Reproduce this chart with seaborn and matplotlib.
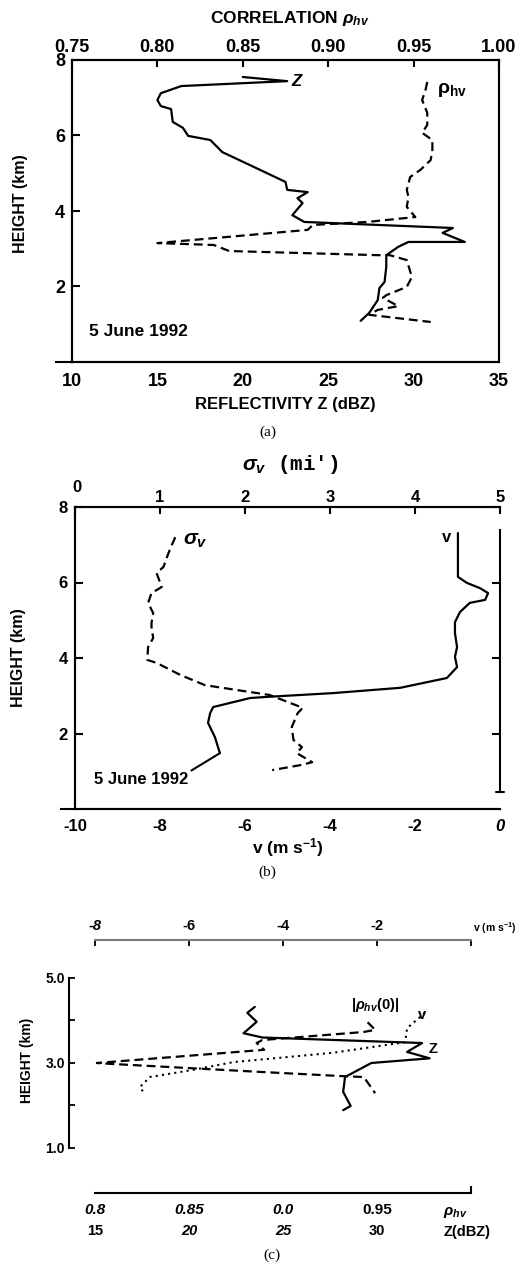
import matplotlib
matplotlib.use("Agg")
import matplotlib.pyplot as plt
import seaborn as sns

# ---------------- Panel (a): reflectivity Z and correlation rho_hv, 5 June 1992
a_z_height = [7.55, 7.44, 7.31, 7.12, 6.94, 6.78, 6.70, 6.36, 6.20, 5.99, 5.88, 5.56, 5.22,
              4.77, 4.56, 4.50, 4.34, 4.21, 3.89, 3.71, 3.55, 3.42, 3.18, 3.18, 3.05, 2.83,
              2.52, 2.12, 1.96, 1.64, 1.30, 1.09]
a_z_dbz = [20.0, 22.6, 16.4, 15.2, 15.0, 15.2, 15.8, 15.9, 16.5, 16.8, 18.1, 18.8, 20.4,
           22.5, 22.6, 23.8, 23.2, 23.5, 22.9, 23.6, 32.3, 31.7, 33.0, 29.7, 29.1, 28.4,
           28.4, 28.3, 28.0, 27.9, 27.4, 26.9]
a_rho_height = [7.42, 7.21, 6.94, 6.60, 6.28, 6.07, 5.88, 5.62, 5.35, 5.09, 4.90, 4.56, 4.37,
                4.11, 3.84, 3.71, 3.63, 3.50, 3.15, 3.10, 2.94, 2.83, 2.83, 2.70, 2.25, 1.99,
                1.77, 1.70, 1.48, 1.38, 1.25, 1.06]
a_rho = [0.958, 0.957, 0.955, 0.958, 0.958, 0.955, 0.961, 0.961, 0.960, 0.954, 0.948, 0.946,
         0.947, 0.946, 0.951, 0.923, 0.891, 0.888, 0.800, 0.833, 0.842, 0.929, 0.936, 0.946,
         0.949, 0.946, 0.934, 0.932, 0.941, 0.929, 0.924, 0.960]
a_z_ticks = [10, 15, 20, 25, 30, 35]
a_rho_ticks = [0.75, 0.80, 0.85, 0.90, 0.95, 1.00]
a_rho_ticklabels = ["0.75", "0.80", "0.85", "0.90", "0.95", "1.00"]
a_height_ticks = [2, 4, 6, 8]

# ---------------- Panel (b): Doppler velocity v and spectrum width sigma_v
b_v_height = [7.31, 6.15, 5.99, 5.85, 5.72, 5.54, 5.46, 5.22, 4.95, 4.66, 4.29, 4.03, 3.76,
              3.47, 3.21, 3.07, 2.97, 2.94, 2.70, 2.54, 2.28, 1.91, 1.48]
b_v = [-0.99, -0.99, -0.78, -0.47, -0.28, -0.35, -0.71, -0.94, -1.06, -1.06, -1.01, -1.06,
       -1.01, -1.25, -2.35, -3.93, -5.48, -5.88, -6.75, -6.82, -6.87, -6.71, -6.59]
b_sig_height = [7.20, 7.00, 6.78, 6.41, 6.25, 5.88, 5.72, 5.46, 5.19, 4.93, 4.82, 4.53, 4.29,
                3.95, 3.87, 3.55, 3.28, 3.02, 2.68, 2.54, 2.17, 1.83, 1.64, 1.48, 1.24, 1.17,
                1.03]
b_sig = [1.18, 1.14, 1.10, 1.04, 0.96, 1.02, 0.90, 0.86, 0.92, 0.90, 0.90, 0.92, 0.86, 0.85,
         0.96, 1.24, 1.53, 2.29, 2.68, 2.62, 2.55, 2.57, 2.67, 2.61, 2.79, 2.67, 2.32]
b_v_ticks = [-10, -8, -6, -4, -2, 0]
b_v_ticklabels = ["-10", "-8", "-6", "-4", "-2", "0"]
b_sig_ticks = [0, 1, 2, 3, 4, 5]
b_sig_ticklabels = ["", "1", "2", "3", "4", "5"]
b_height_ticks = [2, 4, 6, 8]

# ---------------- Panel (c): Z, |rho_hv(0)| and v
c_z_height = [4.32, 4.18, 3.97, 3.70, 3.60, 3.47, 3.26, 3.11, 3.00, 2.67, 2.32, 1.99, 1.89]
c_z = [23.5, 23.1, 23.6, 22.9, 23.9, 32.4, 31.6, 32.8, 29.7, 28.3, 28.2, 28.6, 28.2]
c_rho_height = [3.96, 3.78, 3.73, 3.54, 3.47, 3.31, 3.00, 2.98, 2.79, 2.69, 2.67, 2.29]
c_rho = [0.945, 0.949, 0.943, 0.889, 0.886, 0.890, 0.801, 0.808, 0.888, 0.932, 0.943, 0.949]
c_v_height = [4.18, 3.82, 3.49, 3.24, 3.02, 2.84, 2.67, 2.44, 2.25]
c_v = [-0.98, -1.36, -1.40, -2.94, -5.06, -5.91, -6.83, -7.04, -6.94]
c_z_ticks = [15, 20, 25, 30]
c_z_ticklabels = ["15", "20", "25", "30"]
c_rho_ticks = [0.80, 0.85, 0.90, 0.95]
c_rho_ticklabels = ["0.8", "0.85", "0.0", "0.95"]
c_v_ticks = [-8, -6, -4, -2, 0]
c_v_ticklabels = ["-8", "-6", "-4", "-2", ""]
c_height_ticks = [1, 3, 5]
c_height_ticklabels = ["1.0", "3.0", "5.0"]

# ---------------- style
sns.set_theme(style="ticks")
plt.rcParams.update({
    "font.family": ["Liberation Sans", "DejaVu Sans"],
    "font.weight": "bold",
    "axes.linewidth": 1.5,
    "axes.edgecolor": "black",
    "text.color": "black",
    "axes.labelcolor": "black",
    "xtick.color": "black",
    "ytick.color": "black",
    "axes.labelweight": "bold",
    "mathtext.fontset": "custom",
    "mathtext.rm": "Liberation Sans:bold",
    "mathtext.bf": "Liberation Sans:bold",
    "mathtext.it": "Liberation Sans:bold:italic",
    "mathtext.sf": "Liberation Sans:bold",
})

W, H = 519, 1263
fig = plt.figure(figsize=(W / 100, H / 100), dpi=100, facecolor="white")

LW = 1.6
DASH = (0, (4, 2.2))
DOT = (0, (1, 2))


def rect(x0, y0, x1, y1):
    return [x0 / W, 1 - y1 / H, (x1 - x0) / W, (y1 - y0) / H]


def draw(ax, x, y, ls="-", lw=LW):
    sns.lineplot(x=x, y=y, sort=False, estimator=None, color="black",
                 linewidth=lw, linestyle=ls, ax=ax, legend=False)


def axcoords(ax, px, py):
    b = ax.get_position()
    return ((px / W - b.x0) / b.width, ((1 - py / H) - b.y0) / b.height)


def ftext(px, py, s, **kw):
    kw.setdefault("ha", "center")
    kw.setdefault("va", "center")
    fig.text(px / W, 1 - py / H, s, **kw)


# ================= Panel (a)
axA = fig.add_axes(rect(72, 60, 499, 362))
axA2 = axA.twiny()
draw(axA, a_z_dbz, a_z_height)
draw(axA2, a_rho, a_rho_height, DASH)
axA.plot([9.0, 10.0], [0, 0], color="black", lw=1.5, clip_on=False, solid_capstyle="butt")
axA.set_xlim(10, 35)
axA2.set_xlim(0.75, 1.0)
axA.set_ylim(0, 8)
axA.set_xticks(a_z_ticks)
axA.tick_params(axis="x", length=0, pad=8, labelsize=13)
axA.set_yticks(a_height_ticks)
axA.tick_params(axis="y", direction="in", length=6, width=1.5, pad=5, labelsize=13)
axA2.set_xticks(a_rho_ticks)
axA2.set_xticklabels(a_rho_ticklabels)
axA2.tick_params(axis="x", direction="in", length=5, width=1.5, pad=3, labelsize=13)
axA.set_xlabel("REFLECTIVITY Z (dBZ)", fontsize=12)
axA.xaxis.set_label_coords(*axcoords(axA, 285, 405))
axA.xaxis.label.set_va("center")
axA2.set_xlabel(r"CORRELATION $\rho_{hv}$", fontsize=12.5)
axA2.xaxis.set_label_coords(*axcoords(axA2, 290, 18))
axA2.xaxis.label.set_va("center")
axA.set_ylabel("HEIGHT (km)", fontsize=11.5)
axA.yaxis.set_label_coords(*axcoords(axA, 21, 204))
axA.yaxis.label.set_va("center")
ftext(296, 82, "Z", fontsize=12, style="italic")
ftext(452, 90, r"$\mathrm{\rho_{hv}}$", fontsize=14)
ftext(138, 331, "5 June 1992", fontsize=12.5)
ftext(268, 432, "(a)", fontsize=11, family="Liberation Serif", weight="normal")

# ================= Panel (b)
axB = fig.add_axes(rect(75, 507, 500, 809))
axB2 = axB.twiny()
draw(axB, b_v, b_v_height)
draw(axB2, b_sig, b_sig_height, DASH)
axB.plot([-10.35, -10.0], [0, 0], color="black", lw=1.5, clip_on=False, solid_capstyle="butt")
axB.plot([-0.09, 0.09], [0.45, 0.45], color="black", lw=1.5, clip_on=False)
axB.set_xlim(-10, 0)
axB2.set_xlim(0, 5)
axB.set_ylim(0, 8)
axB.spines["right"].set_bounds(0.45, 7.4)
axB2.spines["right"].set_visible(False)
axB.set_xticks(b_v_ticks)
axB.set_xticklabels(b_v_ticklabels)
axB.get_xticklabels()[-1].set_style("italic")
axB.tick_params(axis="x", length=0, pad=7.5, labelsize=12)
axB.set_yticks(b_height_ticks)
axB.tick_params(axis="y", direction="in", length=6, width=1.5, pad=5, labelsize=12,
                right=True, labelright=False)
axB2.set_xticks(b_sig_ticks)
axB2.set_xticklabels(b_sig_ticklabels)
axB2.tick_params(axis="x", direction="in", length=5, width=1.5, pad=1.5, labelsize=12)
axB.set_xlabel(r"v (m s$^{-1}$)", fontsize=12.5)
axB.xaxis.set_label_coords(*axcoords(axB, 288, 848))
axB.xaxis.label.set_va("center")
axB2.set_xlabel(r"$\sigma_v$ (mi')", fontsize=15, family=["Liberation Mono", "DejaVu Sans Mono"])
axB2.xaxis.set_label_coords(*axcoords(axB2, 290, 465))
axB2.xaxis.label.set_va("center")
axB.set_ylabel("HEIGHT (km)", fontsize=11.5)
axB.yaxis.set_label_coords(*axcoords(axB, 19, 658))
axB.yaxis.label.set_va("center")
ftext(77, 488, "0", fontsize=12)
ftext(195, 540, r"$\sigma_v$", fontsize=15)
ftext(447, 538, "v", fontsize=12)
axB.annotate("5 June 1992", xy=(-6.59, 1.48), xytext=(141, H - 780),
             textcoords="figure pixels", ha="center", va="center", fontsize=12,
             arrowprops=dict(arrowstyle="-", color="black", lw=1.5, relpos=(1.0, 1.0),
                             shrinkA=0, shrinkB=0))
ftext(267, 872, "(b)", fontsize=11, family="Liberation Serif", weight="normal")

# ================= Panel (c)
axC = fig.add_axes(rect(95, 940, 471, 1193))
axCr = axC.twiny()
axCv = axC.twiny()
draw(axC, c_z, c_z_height)
draw(axCr, c_rho, c_rho_height, DASH)
draw(axCv, c_v, c_v_height, DOT, lw=1.5)
axC.set_xlim(15, 35)
axCr.set_xlim(0.80, 1.00)
axCv.set_xlim(-8, 0)
axC.set_ylim(-0.059, 5.894)

for sp in ["top", "right"]:
    axC.spines[sp].set_visible(False)
for sp in ["top", "right", "left", "bottom"]:
    axCr.spines[sp].set_visible(False)
for sp in ["right", "left", "bottom"]:
    axCv.spines[sp].set_visible(False)
axCv.spines["top"].set_color("#7a7a7a")
axCv.spines["top"].set_linewidth(1.5)

axC.spines["left"].set_position(("outward", 18.7))
axC.spines["left"].set_bounds(1, 5)
axC.set_yticks(c_height_ticks)
axC.set_yticklabels(c_height_ticklabels)
axC.set_yticks([2, 4], minor=True)
axC.tick_params(axis="y", which="both", direction="in", length=4, width=1.3, pad=3, labelsize=10)

axC.set_xticks(c_z_ticks)
axC.set_xticklabels(c_z_ticklabels)
axC.set_xticks([15, 35], minor=True)
axC.tick_params(axis="x", which="major", length=0, pad=22, labelsize=10.5)
axC.tick_params(axis="x", which="minor", direction="in", length=5, width=1.5)
for lab in axC.get_xticklabels()[1:3]:
    lab.set_style("italic")

axCr.xaxis.set_ticks_position("bottom")
axCr.set_xticks(c_rho_ticks)
axCr.set_xticklabels(c_rho_ticklabels)
axCr.tick_params(axis="x", length=0, pad=7, labelsize=11)
for lab in axCr.get_xticklabels()[0:3]:
    lab.set_style("italic")

axCv.set_xticks(c_v_ticks)
axCv.set_xticklabels(c_v_ticklabels)
axCv.tick_params(axis="x", direction="in", length=4, width=1.3, pad=5, labelsize=10.5)
for lab in axCv.get_xticklabels()[0:1]:
    lab.set_style("italic")

axC.set_ylabel("HEIGHT (km)", fontsize=10)
axC.yaxis.set_label_coords(*axcoords(axC, 27, 1060))
axC.yaxis.label.set_va("center")

ftext(517, 928, r"v (m s$^{-1}$)", fontsize=7.5, ha="right")
ftext(455, 1212, r"$\rho_{hv}$", fontsize=11)
ftext(467, 1232, "Z(dBZ)", fontsize=10.5)
ftext(375, 1005, r"$|\rho_{hv}(0)|$", fontsize=10.5)
ftext(422, 1015, "v", fontsize=10.5)
ftext(433, 1049, "Z", fontsize=10.5)
ftext(272, 1255, "(c)", fontsize=11, family="Liberation Serif", weight="normal")

fig.savefig("out.png", dpi=100, facecolor="white")
